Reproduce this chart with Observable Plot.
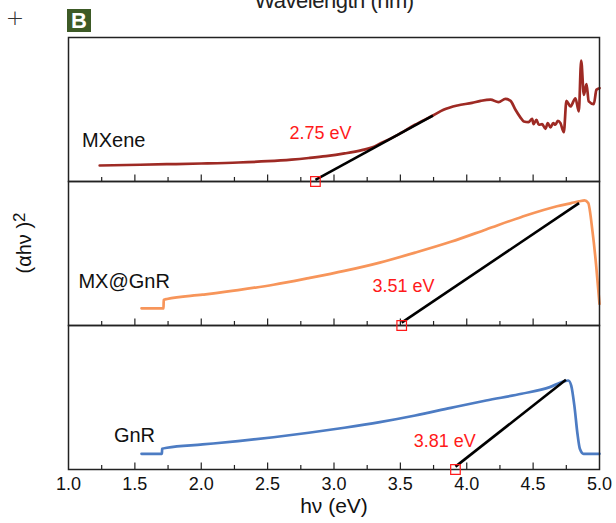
<!DOCTYPE html>
<html><head><meta charset="utf-8">
<script src="https://cdn.jsdelivr.net/npm/d3@7"></script>
<script src="https://cdn.jsdelivr.net/npm/@observablehq/plot@0.6"></script>
<style>
body{margin:0;background:#fff;font-family:"Liberation Sans",Arial,Helvetica,sans-serif;}
#wrap{position:relative;width:616px;height:523px;overflow:hidden;background:#fff;}
#chart{position:absolute;left:0;top:0;}
.title{position:absolute;top:-10px;left:214px;width:240px;text-align:center;font-size:22px;line-height:22px;letter-spacing:-0.5px;color:#222;white-space:nowrap;}
.plus{position:absolute;left:3px;top:5px;width:24px;text-align:center;font-family:"DejaVu Sans",sans-serif;font-weight:200;font-size:22px;line-height:26px;color:#333;}
.badge{position:absolute;left:67px;top:9px;width:24px;height:23px;background:#3d5a26;color:#fff;font-weight:bold;font-size:22px;line-height:24px;text-align:center;}
.ylab{position:absolute;left:-26px;top:231px;width:100px;height:24px;line-height:24px;text-align:center;font-size:20px;color:#111;transform:rotate(-90deg);white-space:nowrap;}
.ylab span{font-size:17px;position:relative;top:-6px;}
</style></head>
<body>
<div id="wrap">
  <div class="title">Wavelength (nm)</div>
  <div class="plus">+</div>
  <div class="badge">B</div>
  <div class="ylab">(αhν )<span>2</span></div>
  <div id="chart"></div>
</div>
<script>
// panels (top to bottom)
const panels = ["MXene", "MX@GnR", "GnR"];
const lineColors = ["#9e2a24", "#f7955a", "#4d7cc3"];

// x-axis ticks
const xTicks = [1.0, 1.5, 2.0, 2.5, 3.0, 3.5, 4.0, 4.5, 5.0];
const majorTicks = [1.5, 2.0, 2.5, 3.0, 3.5, 4.0, 4.5];
const minorTicks = [1.25, 1.75, 2.25, 2.75, 3.25, 3.75, 4.25, 4.75];
const xLabel = "hν (eV)";

// (αhν)^2, normalised per panel (arb. units)
const mxeneX = [1.235, 1.74, 2.0, 2.28, 2.5, 2.68, 2.81, 2.94, 3.08, 3.21, 3.29, 3.345, 3.48, 3.61, 3.745, 3.825, 3.93, 4.04, 4.104, 4.179, 4.239, 4.292, 4.33, 4.367, 4.405, 4.43, 4.465, 4.493, 4.503, 4.525, 4.543, 4.568, 4.593, 4.61, 4.631, 4.651, 4.668, 4.686, 4.706, 4.731, 4.751, 4.781, 4.819, 4.844, 4.862, 4.882, 4.902, 4.919, 4.957, 4.977, 5.0];
const mxeneY = [0.111, 0.12, 0.125, 0.132, 0.141, 0.152, 0.163, 0.176, 0.195, 0.218, 0.238, 0.262, 0.324, 0.394, 0.458, 0.498, 0.528, 0.546, 0.56, 0.569, 0.551, 0.574, 0.56, 0.498, 0.444, 0.417, 0.412, 0.435, 0.398, 0.428, 0.394, 0.398, 0.366, 0.405, 0.375, 0.405, 0.394, 0.422, 0.405, 0.342, 0.56, 0.521, 0.578, 0.486, 0.84, 0.602, 0.676, 0.556, 0.537, 0.637, 0.648];

const mxgnrX = [1.55, 1.716, 1.717, 1.742, 2.01, 2.277, 2.544, 2.81, 3.078, 3.345, 3.612, 3.88, 4.146, 4.413, 4.68, 4.787, 4.846, 4.887, 4.915, 4.947, 4.974, 5.0];
const mxgnrY = [0.119, 0.119, 0.177, 0.184, 0.214, 0.246, 0.283, 0.329, 0.379, 0.437, 0.506, 0.581, 0.667, 0.754, 0.828, 0.85, 0.862, 0.869, 0.85, 0.655, 0.425, 0.15];

const gnrX = [1.55, 1.704, 1.705, 1.742, 2.01, 2.277, 2.544, 2.81, 3.078, 3.345, 3.612, 3.88, 4.146, 4.413, 4.626, 4.733, 4.765, 4.787, 4.812, 4.834, 4.852, 4.88, 5.0];
const gnrY = [0.109, 0.109, 0.144, 0.151, 0.174, 0.197, 0.224, 0.255, 0.29, 0.329, 0.375, 0.428, 0.479, 0.526, 0.572, 0.613, 0.618, 0.583, 0.433, 0.248, 0.144, 0.109, 0.109];

// Tauc tangent lines (start at intercept, end on curve)
const tangentX1 = [2.86, 3.51, 3.915];
const tangentY1 = [0.012, 0.02, 0.02];
const tangentX2 = [3.745, 4.846, 4.747];
const tangentY2 = [0.458, 0.85, 0.623];

// band-gap annotations
const gapLabels = ["2.75 eV", "3.51 eV", "3.81 eV"];
const gapLabelX = [2.665, 3.29, 3.6];
const gapLabelY = [0.337, 0.276, 0.198];
const nameLabelX = [1.102, 1.075, 1.342];
const nameLabelY = [0.281, 0.303, 0.236];

const seriesX = [mxeneX, mxgnrX, gnrX];
const seriesY = [mxeneY, mxgnrY, gnrY];
const rows = [];
panels.forEach((p, i) => seriesX[i].forEach((x, j) => rows.push({panel: p, x, y: seriesY[i][j]})));
const tangents = panels.map((p, i) => ({panel: p, x1: tangentX1[i], y1: tangentY1[i], x2: tangentX2[i], y2: tangentY2[i]}));
const gaps = panels.map((p, i) => ({panel: p, x: tangentX1[i], y: 0}));
const gapText = panels.map((p, i) => ({panel: p, x: gapLabelX[i], y: gapLabelY[i], text: gapLabels[i]}));
const nameText = panels.map((p, i) => ({panel: p, x: nameLabelX[i], y: nameLabelY[i], text: p}));
const xLabelRows = [{panel: "GnR", text: xLabel}];

const chart = Plot.plot({
  width: 616, height: 523,
  marginLeft: 68, marginRight: 17, marginTop: 36, marginBottom: 54,
  style: {fontFamily: "'Liberation Sans', Arial, Helvetica, sans-serif", background: "transparent", color: "#111", overflow: "visible"},
  x: {domain: [1, 5]},
  y: {domain: [0, 1], axis: null},
  fy: {domain: panels, axis: null, padding: 0},
  color: {domain: panels, range: lineColors},
  marks: [
    Plot.ruleX(minorTicks, {y1: 0, y2: 0.028, stroke: "#222", strokeWidth: 1.2}),
    Plot.ruleX(majorTicks, {y1: 0, y2: 0.045, stroke: "#222", strokeWidth: 1.2}),
    Plot.line(rows, {x: "x", y: "y", fy: "panel", z: "panel", stroke: "panel", strokeWidth: 2.7, curve: "monotone-x", strokeLinejoin: "round"}),
    Plot.link(tangents, {x1: "x1", y1: "y1", x2: "x2", y2: "y2", fy: "panel", stroke: "#000", strokeWidth: 2.6}),
    Plot.frame({stroke: "#222", strokeWidth: 1.5}),
    Plot.dot(gaps, {x: "x", y: "y", fy: "panel", symbol: "square", r: 5.4, stroke: "#ff1a1a", strokeWidth: 1.2, fill: "none"}),
    Plot.text(gapText, {x: "x", y: "y", fy: "panel", text: "text", textAnchor: "start", fontSize: 18, fill: "#ff1a1a"}),
    Plot.text(nameText, {x: "x", y: "y", fy: "panel", text: "text", textAnchor: "start", fontSize: 20, fill: "#111"}),
    Plot.axisX(xTicks, {tickSize: 0, tickPadding: 8, fontSize: 18, tickFormat: d => d.toFixed(1), label: null}),
    Plot.text(xLabelRows, {fy: "panel", text: "text", frameAnchor: "bottom", lineAnchor: "middle", dy: 37, fontSize: 21, fill: "#111"})
  ]
});
document.getElementById("chart").appendChild(chart);
</script>
</body></html>
